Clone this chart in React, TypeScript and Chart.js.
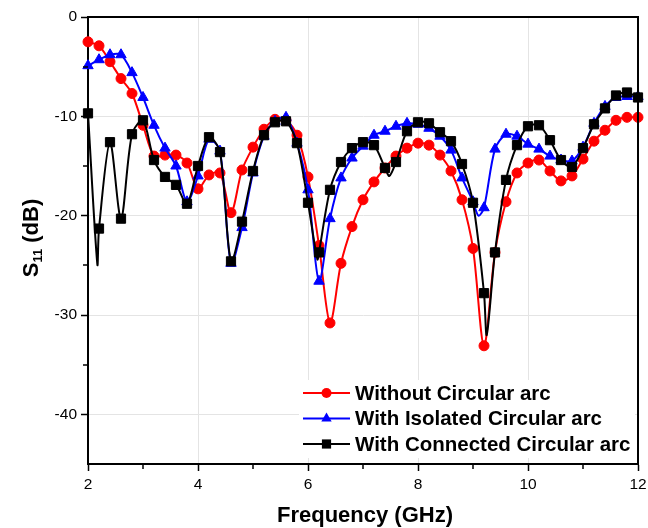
import React, { useEffect, useRef } from "react";
import { Chart, registerables } from "chart.js";

Chart.register(...registerables);

// ---- data ----
const freqs = [
  2.0, 2.2, 2.4, 2.6, 2.8, 3.0, 3.2, 3.4, 3.6, 3.8,
  4.0, 4.2, 4.4, 4.6, 4.8, 5.0, 5.2, 5.4, 5.6, 5.8,
  6.0, 6.2, 6.4, 6.6, 6.8, 7.0, 7.2, 7.4, 7.6, 7.8,
  8.0, 8.2, 8.4, 8.6, 8.8, 9.0, 9.2, 9.4, 9.6, 9.8,
  10.0, 10.2, 10.4, 10.6, 10.8, 11.0, 11.2, 11.4, 11.6, 11.8,
  12.0,
];

const withoutArc = [
  -2.5, -2.9, -4.5, -6.2, -7.7, -10.9, -14.0, -13.9, -13.9, -14.7,
  -17.3, -15.9, -15.7, -19.7, -15.4, -13.1, -11.3, -10.3, -10.4, -11.9,
  -16.1, -23.0, -30.8, -24.8, -21.1, -18.4, -16.6, -15.2, -14.0, -13.2,
  -12.7, -12.9, -13.9, -15.5, -18.4, -23.3, -33.1, -23.7, -18.6, -15.7,
  -14.7, -14.4, -15.5, -16.5, -16.0, -14.3, -12.5, -11.4, -10.4, -10.1,
  -10.1,
];

const isolatedArc = [
  -4.9, -4.3, -3.8, -3.8, -5.6, -8.1, -10.9, -13.2, -15.0, -18.6,
  -16.0, -12.3, -13.5, -24.8, -21.2, -15.7, -12.0, -10.5, -10.1, -12.7,
  -17.4, -26.6, -20.3, -16.2, -14.2, -13.0, -11.9, -11.5, -11.0, -10.7,
  -10.8, -11.2, -12.0, -13.4, -16.2, -18.6, -19.2, -13.3, -11.8, -12.0,
  -12.8, -13.3, -14.0, -14.4, -14.5, -13.1, -10.7, -9.0, -8.1, -8.0,
  -8.0,
];

const connectedArc = [
  -9.7, -21.3, -12.6, -20.3, -11.8, -10.4, -14.4, -16.1, -16.9, -18.8,
  -15.0, -12.1, -13.6, -24.6, -20.6, -15.5, -11.9, -10.6, -10.5, -12.7,
  -18.7, -23.7, -17.4, -14.6, -13.2, -12.6, -12.9, -15.2, -14.6, -11.5,
  -10.6, -10.7, -11.6, -12.5, -14.8, -18.7, -27.8, -23.7, -16.4, -12.9,
  -11.0, -10.9, -12.4, -14.4, -15.1, -13.2, -10.8, -9.2, -7.9, -7.6,
  -8.1,
];

// line-only points (curve minima between markers)
const isolatedDipFreqs = [9.1];
const isolatedDipVals = [-20.0];
const connectedDipFreqs = [2.17, 6.17, 7.48, 9.25];
const connectedDipVals = [-24.9, -24.4, -16.0, -32.0];

const xTickLabels = [2, 4, 6, 8, 10, 12];
const yTickLabels = [0, -10, -20, -30, -40];
const xMinorTicks = [3, 5, 7, 9, 11];
const yMinorTicks = [-35, -25, -15, -5];

const seriesNames = [
  "Without Circular arc",
  "With Isolated Circular arc",
  "With Connected Circular arc",
];
const seriesColors = ["#ff0000", "#0000ff", "#000000"];
const seriesStyles = ["circle", "triangle", "rect"];
const seriesRadius = [5, 6, 6.5];

type Pt = { x: number; y: number; m: boolean };

function buildPoints(vals: number[], dipF: number[] = [], dipV: number[] = []): Pt[] {
  const pts: Pt[] = freqs.map((f, i) => ({ x: f, y: vals[i], m: true }));
  dipF.forEach((f, i) => pts.push({ x: f, y: dipV[i], m: false }));
  pts.sort((a, b) => a.x - b.x);
  return pts;
}

const FONT = "'Liberation Sans', Arial, Helvetica, sans-serif";

function drawMarker(ctx: CanvasRenderingContext2D, style: string, x: number, y: number, r: number, color: string) {
  ctx.save();
  ctx.fillStyle = color;
  ctx.strokeStyle = color;
  ctx.beginPath();
  if (style === "circle") {
    ctx.arc(x, y, r, 0, Math.PI * 2);
  } else if (style === "triangle") {
    const h = r * 1.5;
    const s = r * Math.sqrt(3);
    ctx.moveTo(x, y - (2 / 3) * h);
    ctx.lineTo(x + s / 2, y + h / 3);
    ctx.lineTo(x - s / 2, y + h / 3);
    ctx.closePath();
  } else {
    const s = r * Math.SQRT1_2;
    ctx.rect(x - s, y - s, 2 * s, 2 * s);
  }
  ctx.fill();
  ctx.restore();
}

const decorPlugin = {
  id: "decor",
  beforeDatasetsDraw(chart: any) {
    const ctx = chart.ctx as CanvasRenderingContext2D;
    ctx.save();
    ctx.fillStyle = "#ffffff";
    ctx.fillRect(299, 380, 336, 78);
    ctx.restore();
  },
  afterDraw(chart: any) {
    const ctx = chart.ctx as CanvasRenderingContext2D;
    const { left, right, top, bottom } = chart.chartArea;
    const xs = chart.scales.x;
    const ys = chart.scales.y;
    ctx.save();
    // frame top/right
    ctx.strokeStyle = "#000";
    ctx.lineWidth = 2;
    ctx.beginPath();
    ctx.moveTo(left - 1, top);
    ctx.lineTo(right, top);
    ctx.lineTo(right, bottom + 1);
    ctx.stroke();
    // minor ticks
    ctx.lineWidth = 1.5;
    ctx.beginPath();
    xMinorTicks.forEach((v) => {
      const px = Math.round(xs.getPixelForValue(v));
      ctx.moveTo(px, bottom);
      ctx.lineTo(px, bottom + 5);
    });
    yMinorTicks.forEach((v) => {
      const py = Math.round(ys.getPixelForValue(v));
      ctx.moveTo(left, py);
      ctx.lineTo(left - 5, py);
    });
    ctx.stroke();

    // x title
    ctx.fillStyle = "#000";
    ctx.font = `bold 22px ${FONT}`;
    ctx.textAlign = "center";
    ctx.textBaseline = "alphabetic";
    ctx.fillText("Frequency (GHz)", (left + right) / 2 + 2, 522);

    // y title: S11 (dB) with subscript
    ctx.save();
    ctx.translate(30, 238);
    ctx.rotate(-Math.PI / 2);
    const big = `bold 22px ${FONT}`;
    const small = `bold 13px ${FONT}`;
    ctx.font = big;
    const wS = ctx.measureText("S").width;
    const wRest = ctx.measureText(" (dB)").width;
    ctx.font = small;
    const wSub = ctx.measureText("11").width;
    const total = wS + wSub + wRest;
    let u = -total / 2;
    ctx.textAlign = "left";
    ctx.textBaseline = "alphabetic";
    ctx.font = big;
    ctx.fillText("S", u, 8);
    u += wS;
    ctx.font = small;
    ctx.fillText("11", u, 12);
    u += wSub;
    ctx.font = big;
    ctx.fillText(" (dB)", u, 8);
    ctx.restore();

    // legend
    const rows = [393, 418.5, 444];
    seriesNames.forEach((name, i) => {
      const y = rows[i];
      ctx.strokeStyle = seriesColors[i];
      ctx.lineWidth = 2;
      ctx.beginPath();
      ctx.moveTo(303, y);
      ctx.lineTo(350, y);
      ctx.stroke();
      drawMarker(ctx, seriesStyles[i], 326.5, y, seriesRadius[i], seriesColors[i]);
      ctx.fillStyle = "#000";
      ctx.font = `bold 20.5px ${FONT}`;
      ctx.textAlign = "left";
      ctx.textBaseline = "middle";
      ctx.fillText(name, 355, y + 1);
    });
    ctx.restore();
  },
};

export default function App() {
  const canvasRef = useRef<HTMLCanvasElement | null>(null);

  useEffect(() => {
    if (!canvasRef.current) return;
    const mk = (i: number, data: Pt[], order: number) => ({
      label: seriesNames[i],
      data,
      order,
      borderColor: seriesColors[i],
      backgroundColor: seriesColors[i],
      borderWidth: 2,
      tension: 0.3,
      pointStyle: seriesStyles[i],
      pointRadius: (c: any) => (c.raw && c.raw.m ? seriesRadius[i] : 0),
      pointBorderWidth: 1,
      pointBackgroundColor: seriesColors[i],
      pointBorderColor: seriesColors[i],
      clip: false as any,
    });

    const chart = new Chart(canvasRef.current, {
      type: "line",
      data: {
        datasets: [
          mk(0, buildPoints(withoutArc), 3),
          mk(1, buildPoints(isolatedArc, isolatedDipFreqs, isolatedDipVals), 2),
          mk(2, buildPoints(connectedArc, connectedDipFreqs, connectedDipVals), 1),
        ] as any,
      },
      options: {
        animation: false,
        responsive: false,
        devicePixelRatio: 1,
        layout: { padding: { left: 0, right: 10, top: 17, bottom: 0 } },
        plugins: {
          legend: { display: false },
          tooltip: { enabled: false },
        },
        scales: {
          x: {
            type: "linear",
            min: 2,
            max: 12,
            afterFit: (s: any) => {
              s.height = 64;
              s.paddingLeft = 0;
              s.paddingRight = 0;
            },
            ticks: {
              stepSize: 1,
              autoSkip: false,
              maxRotation: 0,
              padding: 4,
              color: "#000",
              font: { family: FONT, size: 15.5 },
              callback: (v: any) => (xTickLabels.includes(Number(v)) ? String(v) : ""),
            },
            grid: {
              color: (c: any) => (c.tick && xTickLabels.includes(c.tick.value) ? "#e4e4e4" : "rgba(0,0,0,0)"),
              tickColor: (c: any) => (c.tick && xTickLabels.includes(c.tick.value) ? "#000" : "rgba(0,0,0,0)"),
              tickLength: 7,
              tickWidth: 1.5,
              lineWidth: 1,
            },
            border: { color: "#000", width: 2 },
          },
          y: {
            type: "linear",
            min: -45,
            max: 0,
            afterFit: (s: any) => {
              s.width = 88;
              s.paddingTop = 0;
              s.paddingBottom = 0;
            },
            ticks: {
              stepSize: 5,
              autoSkip: false,
              padding: 4,
              color: "#000",
              font: { family: FONT, size: 15.5 },
              callback: (v: any) => (yTickLabels.includes(Number(v)) ? String(v) : ""),
            },
            grid: {
              color: (c: any) => (c.tick && yTickLabels.includes(c.tick.value) ? "#e4e4e4" : "rgba(0,0,0,0)"),
              tickColor: (c: any) => (c.tick && yTickLabels.includes(c.tick.value) ? "#000" : "rgba(0,0,0,0)"),
              tickLength: 7,
              tickWidth: 1.5,
              lineWidth: 1,
            },
            border: { color: "#000", width: 2 },
          },
        },
      },
      plugins: [decorPlugin],
    });
    return () => chart.destroy();
  }, []);

  return (
    <div style={{ position: "fixed", left: 0, top: 0, width: 648, height: 528, background: "#fff" }}>
      <canvas ref={canvasRef} width={648} height={528} style={{ display: "block" }} />
    </div>
  );
}
